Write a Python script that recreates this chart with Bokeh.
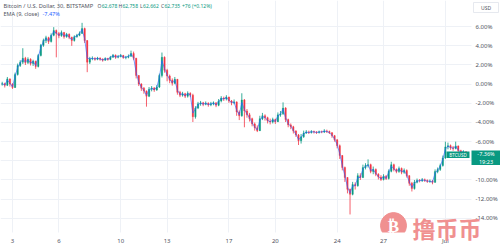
import numpy as np
import pandas as pd
from bokeh.plotting import figure
from bokeh.models import Range1d, FixedTicker, Label, BoxAnnotation, ColumnDataSource
from bokeh.embed import file_html
from bokeh.resources import INLINE

# ---------------- data (percent change, 4h candles) ----------------
start_time = "2024-06-02 08:00"
first_open = 0.0
close_pct = [
    0.05, -0.12, 0.55, 0.02, -0.35, 1.0, 1.95, 2.3, 2.7, 2.25,
    2.6, 2.15, 2.4, 1.85, 3.0, 4.05, 4.55, 4.85, 4.45, 5.1,
    5.6, 5.3, 5.05, 5.4, 4.95, 5.2, 4.9, 4.55, 4.95, 5.1,
    5.3, 5.8, 4.55, 2.3, 2.65, 2.7, 2.6, 2.72, 2.6, 2.5,
    2.68, 2.58, 2.82, 3.02, 2.8, 2.9, 3.0, 2.78, 2.82, 2.92,
    3.2, 2.7, 0.9, 0.02, -0.42, -0.72, -1.25, -0.52, -0.4, -0.6,
    -0.3, 0.9, 2.8, 1.45, 0.85, 0.4, 0.1, 0.5, -0.85, -1.15,
    -1.0, -1.25, -0.95, -1.15, -3.4, -2.5, -2.05, -1.95, -2.1, -1.98,
    -2.15, -2.05, -1.95, -2.2, -1.75, -1.45, -1.55, -1.35, -1.75, -1.95,
    -1.85, -2.9, -3.3, -1.65, -2.8, -3.2, -3.6, -4.15, -4.55, -4.85,
    -3.6, -3.3, -3.5, -3.85, -3.95, -3.7, -3.92, -3.2, -3.1, -2.5,
    -3.7, -4.25, -4.45, -4.9, -5.3, -5.9, -5.5, -5.1, -4.98, -5.05,
    -4.95, -5.0, -5.05, -4.97, -5.0, -4.88, -4.95, -5.08, -5.38, -5.8,
    -6.42, -7.45, -8.7, -9.75, -10.98, -11.5, -10.47, -10.6, -9.55, -9.75,
    -8.7, -8.5, -8.4, -9.12, -8.9, -9.4, -9.7, -9.95, -9.6, -9.85,
    -9.1, -8.4, -8.9, -9.12, -8.8, -9.2, -9.0, -9.55, -10.35, -10.9,
    -10.25, -10.05, -10.08, -9.98, -10.05, -10.15, -10.12, -10.25, -9.12, -8.9,
    -8.5, -7.7, -6.55, -6.42, -6.63, -6.72, -6.45, -6.95, -7.15, -7.05,
    -7.36,
]
high_pct = [
    0.25, 0.15, 0.75, 0.6, 0.1, 1.2, 2.15, 2.5, 3.75, 2.85,
    2.8, 2.7, 2.55, 2.45, 3.15, 4.2, 4.75, 5.05, 4.95, 5.3,
    5.95, 5.7, 5.45, 5.6, 5.45, 5.35, 5.3, 4.95, 5.1, 5.25,
    5.5, 6.4, 5.9, 4.6, 2.85, 2.9, 2.8, 2.85, 2.8, 2.7,
    2.8, 2.75, 2.95, 3.15, 3.1, 3.05, 3.15, 3.05, 2.95, 3.1,
    3.5, 3.4, 2.75, 0.95, 0.1, -0.3, -0.65, -0.3, -0.2, -0.3,
    -0.1, 1.1, 3.3, 2.9, 1.6, 1.0, 0.6, 0.75, 0.55, -0.7,
    -0.8, -0.9, -0.75, -0.85, -1.0, -2.3, -1.85, -1.75, -1.85, -1.8,
    -1.9, -1.85, -1.8, -1.9, -1.55, -1.25, -1.3, -1.15, -1.3, -1.65,
    -1.6, -1.8, -2.75, -0.95, -1.55, -2.6, -3.0, -3.5, -4.0, -4.3,
    -3.3, -3.0, -3.15, -3.4, -3.6, -3.5, -3.6, -2.95, -2.8, -1.9,
    -2.4, -3.6, -4.1, -4.35, -4.8, -5.2, -5.2, -4.85, -4.8, -4.85,
    -4.8, -4.85, -4.9, -4.85, -4.85, -4.7, -4.75, -4.85, -5.0, -5.3,
    -5.75, -6.3, -7.4, -8.6, -9.7, -10.9, -10.2, -10.25, -9.3, -9.3,
    -8.4, -8.25, -7.85, -8.3, -8.6, -8.8, -9.3, -9.5, -9.4, -9.5,
    -8.9, -8.1, -8.3, -8.8, -8.6, -8.7, -8.8, -8.9, -9.5, -10.2,
    -10.0, -9.85, -9.9, -9.8, -9.85, -9.95, -9.95, -10.0, -8.9, -8.7,
    -8.3, -7.45, -6.0, -6.1, -6.3, -6.45, -6.0, -6.4, -6.85, -6.9,
    -7.0,
]
low_pct = [
    -0.15, -0.35, -0.2, -0.25, -0.5, -0.4, 0.9, 1.8, 2.1, 2.0,
    2.1, 1.95, 1.9, 1.6, 1.75, 2.9, 3.9, 4.3, 4.2, 4.35,
    5.0, 2.8, 4.8, 4.95, 4.75, 4.85, 4.7, 4.0, 4.45, 4.85,
    5.0, 5.25, 4.3, 1.25, 2.1, 2.5, 2.45, 2.5, 2.45, 2.35,
    2.45, 2.45, 2.5, 2.75, 2.65, 2.7, 2.8, 2.65, 2.6, 2.7,
    2.85, 2.5, 0.6, -0.2, -0.7, -1.0, -2.35, -1.35, -0.75, -0.8,
    -0.7, -0.4, 0.7, 1.2, 0.3, 0.1, -0.15, 0.0, -1.1, -1.35,
    -1.3, -1.45, -1.4, -1.35, -3.95, -3.6, -2.6, -2.25, -2.3, -2.2,
    -2.35, -2.3, -2.2, -2.4, -2.3, -1.9, -1.75, -1.7, -1.95, -2.2,
    -2.1, -3.3, -3.75, -3.4, -4.5, -3.5, -3.9, -4.4, -4.85, -5.0,
    -4.9, -3.75, -3.8, -4.1, -4.2, -4.1, -4.15, -3.95, -3.4, -3.2,
    -3.95, -4.5, -4.7, -5.15, -5.5, -6.35, -6.2, -5.6, -5.2, -5.2,
    -5.15, -5.15, -5.2, -5.15, -5.12, -5.1, -5.1, -5.2, -5.6, -6.0,
    -6.7, -7.8, -9.0, -10.2, -11.4, -13.6, -11.6, -11.0, -10.7, -10.0,
    -9.8, -8.9, -8.7, -9.3, -9.4, -9.6, -9.95, -10.1, -10.05, -10.0,
    -9.95, -9.2, -9.1, -9.3, -9.25, -9.4, -9.35, -9.75, -10.6, -11.2,
    -11.0, -10.35, -10.25, -10.2, -10.2, -10.3, -10.3, -10.45, -10.3, -9.3,
    -9.05, -8.6, -7.8, -6.8, -6.85, -6.95, -6.8, -7.15, -7.35, -7.3,
    -7.45,
]

tick_dates = ["2024-06-03", "2024-06-06", "2024-06-10", "2024-06-13", "2024-06-17",
              "2024-06-20", "2024-06-24", "2024-06-27", "2024-07-01"]
tick_labels = ["3", "6", "10", "13", "17", "20", "24", "27", "Jul"]
y_ticks = [-14, -12, -10, -8, -6, -4, -2, 0, 2, 4, 6]

symbol_title = "Bitcoin / U.S. Dollar, 30, BITSTAMP"
ohlc_names = ["O", "H", "L", "C"]
ohlc_values = ["62,678", "62,758", "62,662", "62,735"]
change_text = "+76 (+0.12%)"
ema_title = "EMA (9, close)"
ema_value = "-7.47%"
last_pct = "-7.36%"
countdown = "19:23"
ticker_name = "BTCUSD"
currency = "USD"
watermark = "撸币币"

# ---------------- derived ----------------
month0 = pd.Timestamp("2024-06-01")
times = pd.date_range(start_time, periods=len(close_pct), freq="4h")
xday = 1 + (times - month0) / pd.Timedelta(days=1)
closes = np.array(close_pct)
opens = np.concatenate([[first_open], closes[:-1]])
up = closes >= opens
UP, DOWN = "#089981", "#f23645"
colors = [UP if u else DOWN for u in up]

# EMA(9) on 30-min bars, stepped over the 8 half-hours of each 4h bar
k = 0.8 ** 8
ema = [closes[0]]
for c in closes[1:]:
    ema.append(c + (ema[-1] - c) * k)

src = ColumnDataSource(dict(
    x=np.asarray(xday, dtype=float), top=np.maximum(opens, closes), bot=np.minimum(opens, closes),
    high=high_pct, low=low_pct, color=colors, ema=ema))

tick_x = [float(1 + (pd.Timestamp(d) - month0) / pd.Timedelta(days=1)) for d in tick_dates]

# frame covers the whole canvas; axes draw their labels inward (negative standoff)
W, H = 500, 247
PX_PER_DAY, PX_PER_PCT = 15.46, 9.62
X0, Y0 = 2.224, 8.732
p = figure(width=W, height=H,
           x_range=Range1d(X0, X0 + W / PX_PER_DAY), y_range=Range1d(Y0 - H / PX_PER_PCT, Y0),
           y_axis_location="right", toolbar_location=None, output_backend="svg",
           min_border_left=0, min_border_top=0, min_border_right=0, min_border_bottom=0)
p.outline_line_color = None
p.background_fill_color = "white"
p.border_fill_color = "white"

for ax in (p.xaxis[0], p.yaxis[0]):
    ax.axis_line_color = None
    ax.major_tick_line_color = None
    ax.minor_tick_line_color = None
    ax.major_tick_out = 0
    ax.major_tick_in = 0
    ax.minor_tick_out = 0
    ax.minor_tick_in = 0
    ax.major_label_text_font = "Noto Sans"
    ax.major_label_text_font_size = "6px"
    ax.major_label_text_color = "#50535e"
p.yaxis.major_label_standoff = -25
p.xaxis.major_label_standoff = -10

p.yaxis.ticker = FixedTicker(ticks=y_ticks)
p.yaxis.major_label_overrides = {t: f"{t:.2f}%" for t in y_ticks}
p.xaxis.ticker = FixedTicker(ticks=tick_x)
p.xaxis.major_label_overrides = {t: lab for t, lab in zip(tick_x, tick_labels)}
p.xgrid.grid_line_color = "#eef1f6"
p.ygrid.grid_line_color = "#eef1f6"


def box(l, r, t, b, fill, line=None, level="annotation"):
    p.add_layout(BoxAnnotation(left=l, right=r, top=H - t, bottom=H - b,
                               left_units="screen", right_units="screen",
                               top_units="screen", bottom_units="screen",
                               fill_color=fill, fill_alpha=1.0, level=level,
                               line_color=line if line else "white",
                               line_alpha=1.0 if line else 0.0, line_width=0.8))


# price-scale and time-scale strips hide the grid (drawn below the axis labels)
box(471, 501, -1, 248, "white", level="glyph")
box(-1, 501, 233, 248, "white", level="glyph")

bar_w = (1 / 6) * 0.55
p.segment(x0="x", y0="high", x1="x", y1="low", line_color="color", line_width=0.8, source=src)
p.vbar(x="x", width=bar_w, top="top", bottom="bot", fill_color="color", line_color="color",
       line_width=0.3, source=src)
p.line("x", "ema", line_color="#2962ff", line_width=0.8, line_alpha=0.8, source=src)


def lab(text, x, ytop, color, size="5.5px", align="left", font="Noto Sans", style="normal"):
    p.add_layout(Label(x=x, y=H - ytop, x_units="screen", y_units="screen", text=text,
                       text_color=color, text_font_size=size, text_align=align,
                       text_baseline="middle", text_font=font, text_font_style=style))


GREY = "#50535e"
# legend line 1
lab(symbol_title, 3, 6, GREY, size="5.7px")
xs = [97, 118, 139.5, 160.5]
offs = [4.2, 3.9, 3.1, 3.5]
for name, val, x, o in zip(ohlc_names, ohlc_values, xs, offs):
    lab(name, x, 6, GREY, size="5px")
    lab(val, x + o, 6, UP, size="5px")
lab(change_text, 181.5, 6, UP, size="5px")
# legend line 2
lab(ema_title, 3, 14, GREY, size="5.5px")
lab(ema_value, 42, 14, "#2962ff", size="5.5px")

# currency box
box(473, 498, 3, 13, "white", "#e0e3eb")
lab(currency, 485.5, 8, GREY, size="5px", align="center")

# last-price tags
box(446, 469, 152, 158.5, UP)
lab(ticker_name, 457.5, 155.3, "white", size="4.6px", align="center")
box(471, 500, 151, 165.5, UP)
lab(last_pct, 485.5, 154.5, "white", size="5.5px", align="center")
lab(countdown, 485.5, 162, "white", size="5.5px", align="center")

# watermark
WM = "#f09090"
p.scatter(x=[X0 + 393 / PX_PER_DAY], y=[Y0 - 226 / PX_PER_PCT], size=26, marker="circle",
          fill_color=WM, line_color=WM)
lab("₿", 393, 226, "white", size="17px", align="center", font="DejaVu Sans", style="bold")
lab(watermark, 412, 228, WM, size="23px", font="Noto Sans CJK SC", style="bold")

open("out.html", "w").write(file_html(p, INLINE))
